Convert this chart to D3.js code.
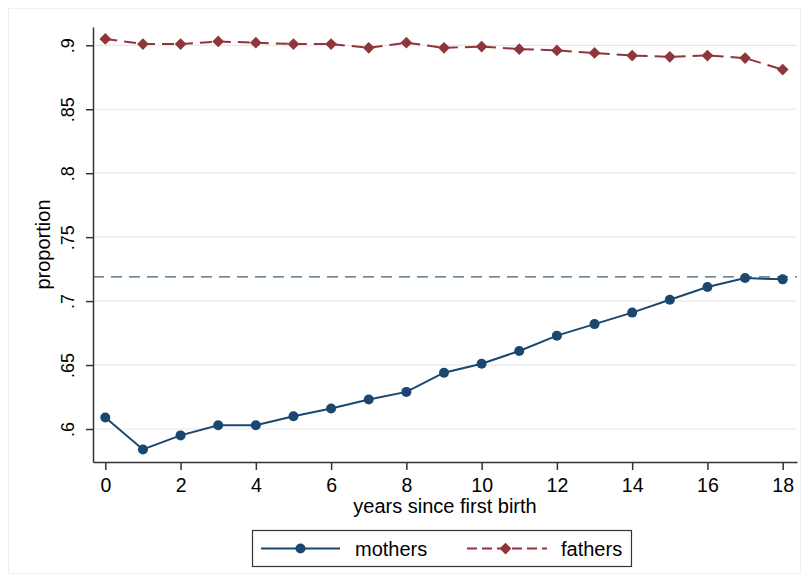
<!DOCTYPE html>
<html>

<head>
  <meta charset="UTF-8" />
  <title>Proportion by years since first birth</title>
  <style>
    body {
      margin: 0;
      background: white;
      font-family: Arial, "Liberation Sans", Helvetica, sans-serif;
    }

    .tick text {
      font-family: Arial, "Liberation Sans", Helvetica, sans-serif;
      fill: #000;
    }
  </style>
  <script src="https://d3js.org/d3.v7.min.js"></script>
</head>

<body>
  <script>
    /* data */
    let years = [0, 1, 2, 3, 4, 5, 6, 7, 8, 9, 10, 11, 12, 13, 14, 15, 16, 17, 18];
    let mothers = [0.609, 0.584, 0.595, 0.603, 0.603, 0.610, 0.616, 0.623, 0.629, 0.644, 0.651, 0.661, 0.673, 0.682, 0.691, 0.701, 0.711, 0.718, 0.717];
    let fathers = [0.905, 0.901, 0.901, 0.903, 0.902, 0.901, 0.901, 0.898, 0.902, 0.898, 0.899, 0.897, 0.896, 0.894, 0.892, 0.891, 0.892, 0.890, 0.881];
    let refLine = 0.719;
    let xTicks = [0, 2, 4, 6, 8, 10, 12, 14, 16, 18];
    let yTicks = [0.6, 0.65, 0.7, 0.75, 0.8, 0.85, 0.9];
    let yTickLabels = [".6", ".65", ".7", ".75", ".8", ".85", ".9"];
    let seriesNames = ["mothers", "fathers"];

    let navy = "#1a476f";
    let maroon = "#90353b";

    let width = 809;
    let height = 582;
    let plot = { left: 93, right: 797, top: 27, bottom: 462 };

    let svg = d3.select("body")
      .append("svg")
      .attr("width", width)
      .attr("height", height);

    /* faint outer frame */
    svg.append("rect")
      .attr("x", 8.5)
      .attr("y", 8.5)
      .attr("width", width - 17)
      .attr("height", height - 17)
      .attr("fill", "white")
      .attr("stroke", "#f0f0f0");

    let xScale = d3.scaleLinear()
      .domain([-0.327, 18.38])
      .range([plot.left, plot.right]);

    let yScale = d3.scaleLinear()
      .domain([0.5742, 0.9143])
      .range([plot.bottom, plot.top]);

    /* gridlines */
    svg.append("g")
      .selectAll("line")
      .data(yTicks)
      .enter()
      .append("line")
      .attr("x1", plot.left)
      .attr("x2", plot.right)
      .attr("y1", d => yScale(d))
      .attr("y2", d => yScale(d))
      .attr("stroke", "#e8e8e8")
      .attr("stroke-width", 1.2);

    /* reference line */
    svg.append("line")
      .attr("x1", plot.left)
      .attr("x2", plot.right)
      .attr("y1", yScale(refLine))
      .attr("y2", yScale(refLine))
      .attr("stroke", "#3b5f80")
      .attr("stroke-width", 1.3)
      .attr("stroke-dasharray", "11,7");

    /* axes */
    let xAxis = svg.append("g")
      .attr("transform", `translate(0, ${plot.bottom})`)
      .call(d3.axisBottom(xScale).tickValues(xTicks).tickSize(8).tickPadding(8).tickSizeOuter(0));
    xAxis.select(".domain").attr("stroke", "#333").attr("stroke-width", 1.5);
    xAxis.selectAll(".tick line").attr("stroke", "#333").attr("stroke-width", 1.5);
    xAxis.selectAll(".tick text").style("font-size", "19.5px");

    let yAxis = svg.append("g")
      .attr("transform", `translate(${plot.left}, 0)`)
      .call(d3.axisLeft(yScale).tickValues(yTicks).tickSize(7).tickSizeOuter(0)
        .tickFormat((d, i) => yTickLabels[i]));
    yAxis.select(".domain").attr("stroke", "#333").attr("stroke-width", 1.5);
    yAxis.selectAll(".tick line").attr("stroke", "#333").attr("stroke-width", 1.5);
    yAxis.selectAll(".tick text")
      .style("font-size", "18px")
      .attr("text-anchor", "middle")
      .attr("x", 0)
      .attr("dy", 0)
      .attr("transform", "translate(-19, 0) rotate(-90)");

    /* axis titles */
    svg.append("text")
      .attr("x", (plot.left + plot.right) / 2)
      .attr("y", 513)
      .attr("text-anchor", "middle")
      .style("font-size", "20px")
      .text("years since first birth");

    svg.append("text")
      .attr("transform", `translate(50, ${(plot.top + plot.bottom) / 2}) rotate(-90)`)
      .attr("text-anchor", "middle")
      .style("font-size", "20px")
      .text("proportion");

    /* lines */
    let line = d3.line()
      .x((d, i) => xScale(years[i]))
      .y(d => yScale(d));

    svg.append("path")
      .datum(mothers)
      .attr("d", line)
      .attr("fill", "none")
      .attr("stroke", navy)
      .attr("stroke-width", 2);

    svg.append("path")
      .datum(fathers)
      .attr("d", line)
      .attr("fill", "none")
      .attr("stroke", maroon)
      .attr("stroke-width", 2)
      .attr("stroke-dasharray", "12,7");

    /* markers */
    svg.append("g")
      .selectAll("circle")
      .data(mothers)
      .enter()
      .append("circle")
      .attr("cx", (d, i) => xScale(years[i]))
      .attr("cy", d => yScale(d))
      .attr("r", 5)
      .attr("fill", navy);

    let diamond = d3.symbol().type(d3.symbolDiamond2).size(88);

    svg.append("g")
      .selectAll("path")
      .data(fathers)
      .enter()
      .append("path")
      .attr("d", diamond)
      .attr("transform", (d, i) => `translate(${xScale(years[i])}, ${yScale(d)})`)
      .attr("fill", maroon);

    /* legend */
    let legend = svg.append("g").attr("id", "legend");
    legend.append("rect")
      .attr("x", 252.5)
      .attr("y", 530.5)
      .attr("width", 379)
      .attr("height", 36)
      .attr("fill", "white")
      .attr("stroke", "#333")
      .attr("stroke-width", 1.2);

    let ly = 548.5;
    legend.append("line")
      .attr("x1", 261).attr("x2", 340)
      .attr("y1", ly).attr("y2", ly)
      .attr("stroke", navy).attr("stroke-width", 2);
    legend.append("circle")
      .attr("cx", 300.5).attr("cy", ly).attr("r", 5)
      .attr("fill", navy);
    legend.append("text")
      .attr("x", 355).attr("y", ly + 7)
      .style("font-size", "20px")
      .text(seriesNames[0]);

    legend.append("line")
      .attr("x1", 467).attr("x2", 547)
      .attr("y1", ly).attr("y2", ly)
      .attr("stroke", maroon).attr("stroke-width", 2)
      .attr("stroke-dasharray", "10,5");
    legend.append("path")
      .attr("d", diamond)
      .attr("transform", `translate(505.5, ${ly})`)
      .attr("fill", maroon);
    legend.append("text")
      .attr("x", 561).attr("y", ly + 7)
      .style("font-size", "20px")
      .text(seriesNames[1]);
  </script>
</body>

</html>
